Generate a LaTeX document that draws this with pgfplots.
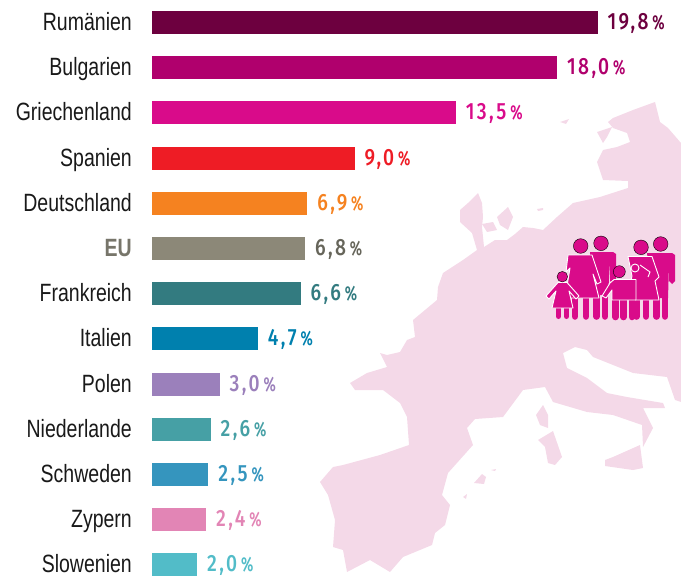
\documentclass[border=0pt]{standalone}
\usepackage{pgfplots}
\pgfplotsset{compat=1.18}
\usepackage{fontspec}
\setmainfont[FakeStretch=0.78]{Liberation Sans}
\newfontfamily\valfont[FakeStretch=0.82,LetterSpace=10]{Fira Sans Medium}
\newfontfamily\pctfont[FakeStretch=0.72,LetterSpace=0]{Fira Sans SemiBold}
\definecolor{mapc}{HTML}{F4D9E8}
\definecolor{iconc}{HTML}{D90B8A}
\definecolor{c0}{HTML}{6D003F}
\definecolor{c1}{HTML}{B0006D}
\definecolor{c2}{HTML}{D90B8A}
\definecolor{c3}{HTML}{EE1C25}
\definecolor{c4}{HTML}{F58220}
\definecolor{c5}{HTML}{8C8878}
\definecolor{c6}{HTML}{337B80}
\definecolor{c7}{HTML}{0080AE}
\definecolor{c8}{HTML}{9B80BB}
\definecolor{c9}{HTML}{46A0A5}
\definecolor{c10}{HTML}{3595BE}
\definecolor{c11}{HTML}{E285B5}
\definecolor{c12}{HTML}{52BCC8}
\definecolor{evalue}{HTML}{66655A}
\definecolor{elabel}{HTML}{77756A}
\pgfplotsset{
 valbar/.style n args={2}{xbar, bar shift=0pt, bar width=23bp, fill=#1, draw=none,
  nodes near coords={\valfont\pgfmathprintnumber[fixed,fixed zerofill,precision=1,use comma,assume math mode=true]{\pgfplotspointmeta}\,{\pctfont\fontsize{20bp}{20bp}\selectfont\%}},
  nodes near coords style={anchor=west, text=#2, font=\fontsize{23.5bp}{23.5bp}\selectfont, inner sep=0pt, xshift=10bp, yshift=-1bp, text height=12bp, text depth=0bp}},
 leg/.style={line width=6.6bp, line cap=round, draw=iconc, no markers},
 body/.style={fill=iconc, draw=white, line width=0.9bp, line join=round, no markers},
 head/.style={only marks, mark=*, mark size=#1, mark options={fill=iconc, draw=none}},
}
\begin{document}
\begin{tikzpicture}
\useasboundingbox (0bp,0bp) rectangle (681bp,576bp);
% map and icon, in the picture's pixel coordinates
\begin{axis}[at={(0bp,0bp)}, anchor=south west, width=681bp, height=576bp, scale only axis,
 xmin=0, xmax=681, ymin=0, ymax=576, y dir=reverse, hide axis, clip=true]
\addplot[fill=mapc, draw=none] coordinates {
(681,143)(668,128)(660,122)(655,102)(633,110)(613,118)(608,122)(613,128)(627,133)(630,142)(617,147)(603,150)(597,162)(603,180)(628,181)(628,188)(600,197)(573,203)(557,217)(543,230)(533,228)(523,227)(515,234)(507,240)(495,240)(484,247)(482,227)(483,217)(482,203)(478,193)(468,203)(460,210)(460,222)(472,233)(477,250)(463,260)(443,273)(438,287)(437,300)(413,320)(415,337)(407,340)(400,352)(387,355)(380,353)(387,367)(367,373)(350,383)(355,390)(383,390)(400,403)(407,417)(409,445)(380,455)(343,465)(333,467)(320,482)(328,495)(335,520)(333,547)(343,550)(347,572)(370,560)(390,572)(403,557)(432,545)(435,533)(445,525)(450,505)(442,495)(448,473)(473,445)(467,428)(475,419)(503,417)(523,390)(545,387)(553,402)(587,412)(613,415)(642,425)(643,447)(653,428)(643,408)(665,408)(663,403)(627,397)(607,393)(587,378)(567,368)(563,353)(575,347)(587,350)(593,357)(633,373)(667,377)(675,400)(681,402)
} -- cycle;
% Danish islands
\addplot[fill=mapc, draw=none] coordinates {(497,217)(508,207)(513,217)(508,230)(500,225)} -- cycle;
\addplot[fill=mapc, draw=none] coordinates {(482,224)(493,222)(497,230)(487,232)} -- cycle;
\addplot[fill=mapc, draw=none] coordinates {(537,209)(543,208)(543,210)(538,211)} -- cycle;
% Baltic islands
\addplot[fill=mapc, draw=none] coordinates {(597,132)(612,127)(607,137)(603,143)} -- cycle;
\addplot[fill=mapc, draw=none] coordinates {(560,122)(569,119)(566,124)} -- cycle;
% Mediterranean islands
\addplot[fill=mapc, draw=none] coordinates {(605,460)(613,457)(640,445)(643,468)(633,470)(605,466)} -- cycle;
\addplot[fill=mapc, draw=none] coordinates {(538,440)(553,431)(562,457)(555,465)(548,463)(545,447)} -- cycle;
\addplot[fill=mapc, draw=none] coordinates {(536,415)(543,405)(548,415)(548,428)(540,425)} -- cycle;
\addplot[fill=mapc, draw=none] coordinates {(474,483)(482,474)(486,477)(484,484)} -- cycle;
\addplot[fill=mapc, draw=none] coordinates {(463,497)(467,494)(466,499)} -- cycle;
\addplot[fill=mapc, draw=none] coordinates {(491,470)(496,469)(495,471)} -- cycle;
% man 1
\addplot[leg] coordinates {(596.5,280)(596.5,316.5)};
\addplot[leg] coordinates {(605,280)(605,316.5)};
\addplot[body, draw=none] coordinates {(590,252)(613,252)(616,254)(616,281)(613,284)(610,281)(610,262)(608,295)(592,295)} -- cycle;
\addplot[head=7.3bp] coordinates {(601,243.3)};
% woman 1
\addplot[leg] coordinates {(575,285)(575,316.5)};
\addplot[leg] coordinates {(586,285)(586,316.5)};
\addplot[body] coordinates {(568,255)(592,255)(601,282)(597,284)(593,274)(599,298)(565,298)(570,268)(566,272)} -- cycle;
\addplot[head=7.3bp] coordinates {(580.7,246)};
% man 2
\addplot[leg] coordinates {(656.5,285)(656.5,316.5)};
\addplot[leg] coordinates {(665,285)(665,316.5)};
\addplot[body, draw=none] coordinates {(647,253)(672,253)(675,255)(675,281)(672,284)(669,281)(669,264)(668,298)(652,298)} -- cycle;
\addplot[head=7.3bp] coordinates {(660.7,244)};
% woman 2
\addplot[leg] coordinates {(636.5,290)(636.5,316.5)};
\addplot[leg] coordinates {(646,290)(646,316.5)};
\addplot[body] coordinates {(628,256.5)(652,256.5)(659,277)(655,281)(659,300)(627,300)(632,276)} -- cycle;
\addplot[head=7.3bp] coordinates {(641,247.3)};
\addplot[only marks, mark=*, mark size=4bp, mark options={fill=iconc, draw=white, line width=0.9bp}] coordinates {(635,268)};
\addplot[draw=white, line width=0.9bp, no markers] coordinates {(640,265)(650,272)(648,277)};
% child in the middle
\addplot[leg] coordinates {(615.5,295)(615.5,317)};
\addplot[leg] coordinates {(623.5,295)(623.5,317)};
\addplot[leg] coordinates {(632,295)(632,317)};
\addplot[body] coordinates {(614,279.5)(636,279.5)(636,300)(612,300)(612,290)(606,298)(602,296)(610,283)} -- cycle;
\addplot[head=6bp] coordinates {(619.3,271.7)};
% child on the left
\addplot[line width=5bp, line cap=round, draw=iconc, no markers] coordinates {(558.5,300)(558.5,316.5)};
\addplot[line width=5bp, line cap=round, draw=iconc, no markers] coordinates {(566.5,300)(566.5,316.5)};
\addplot[body] coordinates {(558,282.5)(567,282.5)(579,296)(576,299)(569,291)(573,308)(552,308)(556,291)(549,299)(546,296)} -- cycle;
\addplot[head=5.3bp] coordinates {(562.3,276.7)};
\end{axis}
% bars
\begin{axis}[at={(152bp,0bp)}, anchor=south west, width=529bp, height=576bp, scale only axis,
 xmin=0, xmax=23.51, ymin=-0.498, ymax=12.245, y dir=reverse,
 axis line style={draw=none}, axis x line=none, axis y line*=left,
 ytick={0,1,2,3,4,5,6,7,8,9,10,11,12},
 yticklabels={Rumänien,Bulgarien,Griechenland,Spanien,Deutschland,{\textbf{\textcolor{elabel}{EU}}},Frankreich,Italien,Polen,Niederlande,Schweden,Zypern,Slowenien},
 major tick length=0pt,
 yticklabel style={font=\fontsize{25bp}{25bp}\selectfont, text=black!90, anchor=east, inner sep=0pt, xshift=-20bp, yshift=-2bp, text height=14bp, text depth=2bp},
 clip=false, point meta=x]
\addplot[valbar={c0}{c0}] coordinates {(19.8,0)};
\addplot[valbar={c1}{c1}] coordinates {(18.0,1)};
\addplot[valbar={c2}{c2}] coordinates {(13.5,2)};
\addplot[valbar={c3}{c3}] coordinates {(9.0,3)};
\addplot[valbar={c4}{c4}] coordinates {(6.9,4)};
\addplot[valbar={c5}{evalue}] coordinates {(6.8,5)};
\addplot[valbar={c6}{c6}] coordinates {(6.6,6)};
\addplot[valbar={c7}{c7}] coordinates {(4.7,7)};
\addplot[valbar={c8}{c8}] coordinates {(3.0,8)};
\addplot[valbar={c9}{c9}] coordinates {(2.6,9)};
\addplot[valbar={c10}{c10}] coordinates {(2.5,10)};
\addplot[valbar={c11}{c11}] coordinates {(2.4,11)};
\addplot[valbar={c12}{c12}] coordinates {(2.0,12)};
\end{axis}
\end{tikzpicture}
\end{document}
